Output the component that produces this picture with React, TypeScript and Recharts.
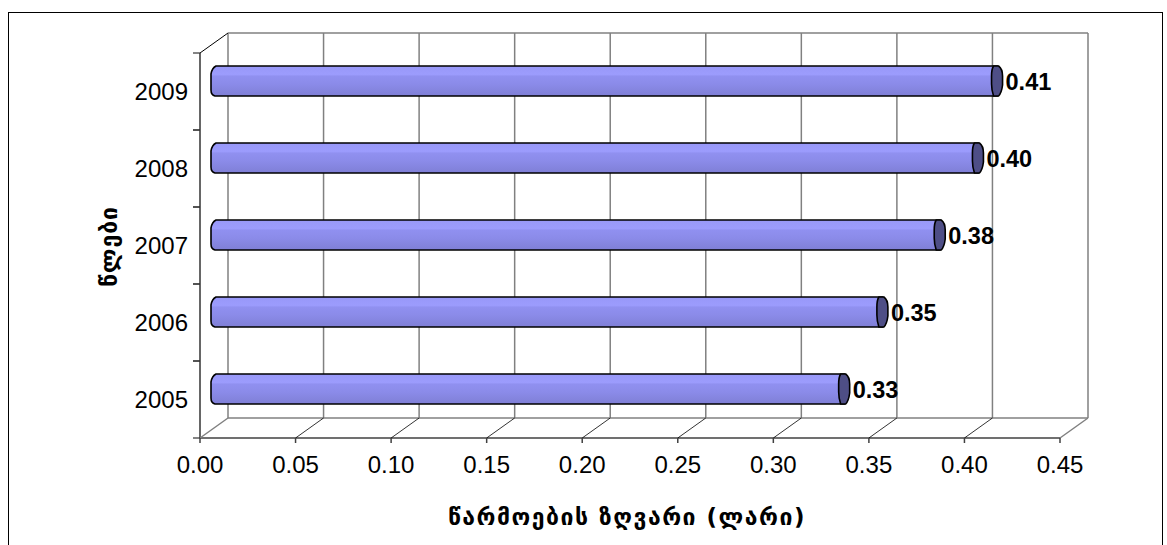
import React from "react";
import { BarChart, Bar, XAxis, YAxis, CartesianGrid, LabelList } from "recharts";

const YEARS = ["2005", "2006", "2007", "2008", "2009"];
const MARGIN_VALUES = [0.33, 0.35, 0.38, 0.4, 0.41];
const X_TICKS = [0, 0.05, 0.1, 0.15, 0.2, 0.25, 0.3, 0.35, 0.4, 0.45];
const X_TITLE = "წარმოების ზღვარი (ლარი)";
const Y_TITLE = "წლები";

const rows = YEARS.map((year, i) => ({ year, value: MARGIN_VALUES[i] }));

// plot box (svg coords) and the fake 3d depth
const CHART_W = 1153;
const CHART_H = 540;
const L = 191;
const T = 40;
const W = 860;
const H = 385;
const DX = 28;
const DY = -20;
const BAND = H / YEARS.length;
const FONT = "'Liberation Sans', Arial, sans-serif";
const GEO_FONT = "'DejaVu Sans', sans-serif";

const FrontTick = (props: any) => {
  const { x, payload, index } = props;
  const base = T + H;
  const edge = index === 0 || index === X_TICKS.length - 1;
  return (
    <g>
      <line x1={x} y1={base} x2={x + DX} y2={base + DY} stroke={edge ? "#808080" : "#000"} strokeWidth={edge ? 1.5 : 0.8} />
      <line x1={x} y1={base} x2={x} y2={base + 5} stroke="#404040" strokeWidth={1.5} />
      <text x={x} y={base + 35} textAnchor="middle" fontFamily={FONT} fontSize={24} fill="#000">
        {Number(payload.value).toFixed(2)}
      </text>
    </g>
  );
};

const YearTick = (props: any) => {
  const { y, payload, index } = props;
  return (
    <g>
      <line x1={L - 7} y1={y - BAND / 2} x2={L} y2={y - BAND / 2} stroke="#333" strokeWidth={1.2} />
      <line x1={L - 7} y1={y + BAND / 2} x2={L} y2={y + BAND / 2} stroke="#333" strokeWidth={1.2} />
      {index === YEARS.length - 1 && (
        <line x1={L} y1={T} x2={L + DX} y2={T + DY} stroke="#000" strokeWidth={1} />
      )}
      <text x={L - 12} y={y + 8} textAnchor="end" fontFamily={FONT} fontSize={24} fill="#000">
        {payload.value}
      </text>
    </g>
  );
};

const TubeBar = (props: any) => {
  const { x, y, width, height } = props;
  const x0 = x + DX / 2 - 3;
  const x1 = x + DX / 2 + width;
  const y0 = y + DY / 2 - 1;
  const y1 = y0 + height;
  const body = `M${x0 + 5},${y0} L${x1},${y0} L${x1},${y1} L${x0 + 4},${y1} Q${x0},${y1 - 1} ${x0},${y1 - 6} L${x0},${y0 + 8} Q${x0 + 1},${y0 + 2} ${x0 + 5},${y0} Z`;
  const cap = `M${x1 - 4},${y0} L${x1 + 1},${y0} Q${x1 + 5},${y0 + 3} ${x1 + 5},${y0 + 10} L${x1 + 5},${y1 - 11} Q${x1 + 4},${y1 - 3} ${x1 + 1},${y1} L${x1 - 4},${y1} Q${x1 - 6},${y1 - 6} ${x1 - 6},${y1 - 12} L${x1 - 6},${y0 + 10} Q${x1 - 6},${y0 + 3} ${x1 - 4},${y0} Z`;
  return (
    <g>
      <path d={body} fill="url(#tubeFill)" stroke="#000" strokeWidth={1.6} strokeLinejoin="round" />
      <path d={cap} fill="#4e4e86" stroke="#000" strokeWidth={1.6} strokeLinejoin="round" />
    </g>
  );
};

const ValueLabel = (props: any) => {
  const { x, y, width, height, value } = props;
  return (
    <text x={x + width + DX / 2 + 8} y={y + DY / 2 + height / 2 + 8} fontFamily={FONT} fontSize={23.5} fontWeight="bold" fill="#000">
      {Number(value).toFixed(2)}
    </text>
  );
};

const backLines = ({ xAxis }: any) =>
  X_TICKS.map((t) =>
    xAxis && typeof xAxis.scale === "function" ? xAxis.scale(t) + DX : L + DX + (t / 0.45) * W
  );

export default function App() {
  return (
    <div style={{ position: "absolute", left: 8, top: 12, width: 1153, height: 540, border: "1px solid #000", overflow: "hidden", background: "#fff" }}>
      <style>{"html,body{overflow:hidden}"}</style>
      <BarChart
        layout="vertical"
        width={CHART_W}
        height={CHART_H}
        data={rows}
        barSize={30}
        margin={{ top: T, right: CHART_W - L - W, bottom: CHART_H - T - H - 30, left: L - 90 }}
      >
        <defs>
          <linearGradient id="tubeFill" x1="0" y1="0" x2="0" y2="1">
            <stop offset="0" stopColor="#9898f8" />
            <stop offset="0.28" stopColor="#9c9cfd" />
            <stop offset="0.34" stopColor="#9090f0" />
            <stop offset="0.6" stopColor="#8b8be9" />
            <stop offset="1" stopColor="#7f7fd6" />
          </linearGradient>
        </defs>
        <CartesianGrid
          x={L + DX}
          y={T + DY}
          width={W}
          height={H}
          stroke="#808080"
          strokeWidth={1.5}
          verticalCoordinatesGenerator={backLines}
          horizontalPoints={[T + DY, T + DY + H]}
        />
        <XAxis
          type="number"
          domain={[0, 0.45]}
          ticks={X_TICKS}
          interval={0}
          height={30}
          axisLine={{ stroke: "#404040", strokeWidth: 1.5 }}
          tickLine={false}
          tick={<FrontTick />}
          label={{
            content: () => (
              <text x={L + W / 2 - 3} y={512} textAnchor="middle" fontFamily={GEO_FONT} fontSize={23} fontWeight="bold" letterSpacing={1.5} fill="#000">
                {X_TITLE}
              </text>
            ),
          }}
        />
        <YAxis
          type="category"
          dataKey="year"
          reversed
          width={90}
          axisLine={{ stroke: "#333", strokeWidth: 1.5 }}
          tickLine={false}
          tick={<YearTick />}
          label={{
            content: () => (
              <text x={0} y={0} transform={`translate(${L - 83},${T + H / 2 + 1}) rotate(-90)`} textAnchor="middle" fontFamily={GEO_FONT} fontSize={23} fontWeight="bold" letterSpacing={1} fill="#000">
                {Y_TITLE}
              </text>
            ),
          }}
        />
        <Bar dataKey="value" shape={<TubeBar />} isAnimationActive={false}>
          <LabelList dataKey="value" content={<ValueLabel />} />
        </Bar>
      </BarChart>
    </div>
  );
}
